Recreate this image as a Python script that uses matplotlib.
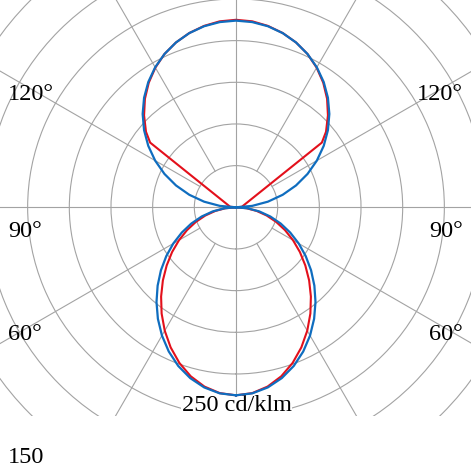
import numpy as np
import matplotlib.pyplot as plt
from matplotlib.patches import Rectangle

# luminous intensity (cd/klm), gamma measured from nadir, symmetric about the vertical
gamma_blue = list(range(0, 185, 5))
blue = [225.6, 224.1, 219.5, 212.2, 202.6, 190.9, 177.7, 163.4, 148.4, 133.0,
        117.6, 102.1, 86.9, 71.8, 57.1, 42.6, 28.3, 14.1, 0.0,
        19.5, 38.9, 58.0, 76.6, 94.7, 112.0, 128.5, 144.0, 158.4, 171.6,
        183.5, 194.0, 203.0, 210.5, 216.4, 220.6, 223.1, 224.0]

gamma_red = list(range(0, 95, 5)) + [95, 127] + list(range(130, 185, 5))
red = [225.6, 223.8, 218.4, 209.9, 198.7, 185.5, 171.0, 155.6, 139.8, 124.1,
       108.6, 93.6, 79.0, 64.9, 51.3, 38.1, 25.2, 12.6, 0.0,
       7.0, 129.0,
       141.0, 156.0, 170.0, 182.5, 193.5, 203.0, 210.5, 216.5, 221.0, 224.0, 225.0]

rings = [50, 100, 150, 200, 250, 300, 350]
spokes_full = [0, 90, 180, 270]
spokes_part = [30, 60, 120, 150, 210, 240, 300, 330]
scale_label = "250 cd/klm"

RED = "#e3101b"
BLUE = "#0f6dbf"
GRID = "#a3a3a3"


def mirror(g, v):
    g = np.asarray(g, float)
    v = np.asarray(v, float)
    th = np.concatenate([g, 360 - g[::-1]])
    return np.radians(th), np.concatenate([v, v[::-1]])


W = H = 471
cx, cy = 236, 207.3          # pole position in pixels (from top-left)
px_per_unit = 41.67 / 50
rmax = 360
R = rmax * px_per_unit

fig = plt.figure(figsize=(W / 100, H / 100), dpi=100)
ax = fig.add_axes([(cx - R) / W, (H - cy - R) / H, 2 * R / W, 2 * R / H],
                  projection="polar")
ax.set_theta_zero_location("S")
ax.set_ylim(0, rmax)
ax.set_rticks(rings)
ax.set_yticklabels([])
ax.set_thetagrids([])
ax.grid(True, axis="y", color=GRID, lw=0.8)
ax.set_axisbelow(True)
ax.spines["polar"].set_visible(False)
ax.patch.set_alpha(0)

for s in spokes_full:
    ax.plot([np.radians(s)] * 2, [0, rmax], color=GRID, lw=0.8, zorder=1)
for s in spokes_part:
    ax.plot([np.radians(s)] * 2, [50, rmax], color=GRID, lw=0.8, zorder=1)

th, r = mirror(gamma_red, red)
ax.plot(th, r, color=RED, lw=1.5, zorder=3)
th, r = mirror(gamma_blue, blue)
ax.plot(th, r, color=BLUE, lw=1.6, zorder=4)

ax.text(236.5 / W, 1 - 411 / H, scale_label, transform=fig.transFigure,
        ha="center", va="baseline", fontsize=17.5, family="Liberation Serif",
        zorder=2, bbox=dict(facecolor="white", edgecolor="none", pad=0.5))

# blank strip under the diagram
fig.add_artist(Rectangle((0, 0), 1, (H - 416) / H, transform=fig.transFigure,
                         facecolor="white", edgecolor="none", zorder=1))

lab = dict(fontsize=17.5, family="Liberation Serif", va="baseline", zorder=3)
for txt, y in [("120°", 100), ("90°", 236.7), ("60°", 340)]:
    fig.text(8 / W, 1 - y / H, txt, ha="left", **lab)
    fig.text(463 / W, 1 - y / H, txt, ha="right", **lab)
fig.text(8 / W, 1 - 463 / H, "150", ha="left", **lab)

fig.savefig("out.png", dpi=100)
